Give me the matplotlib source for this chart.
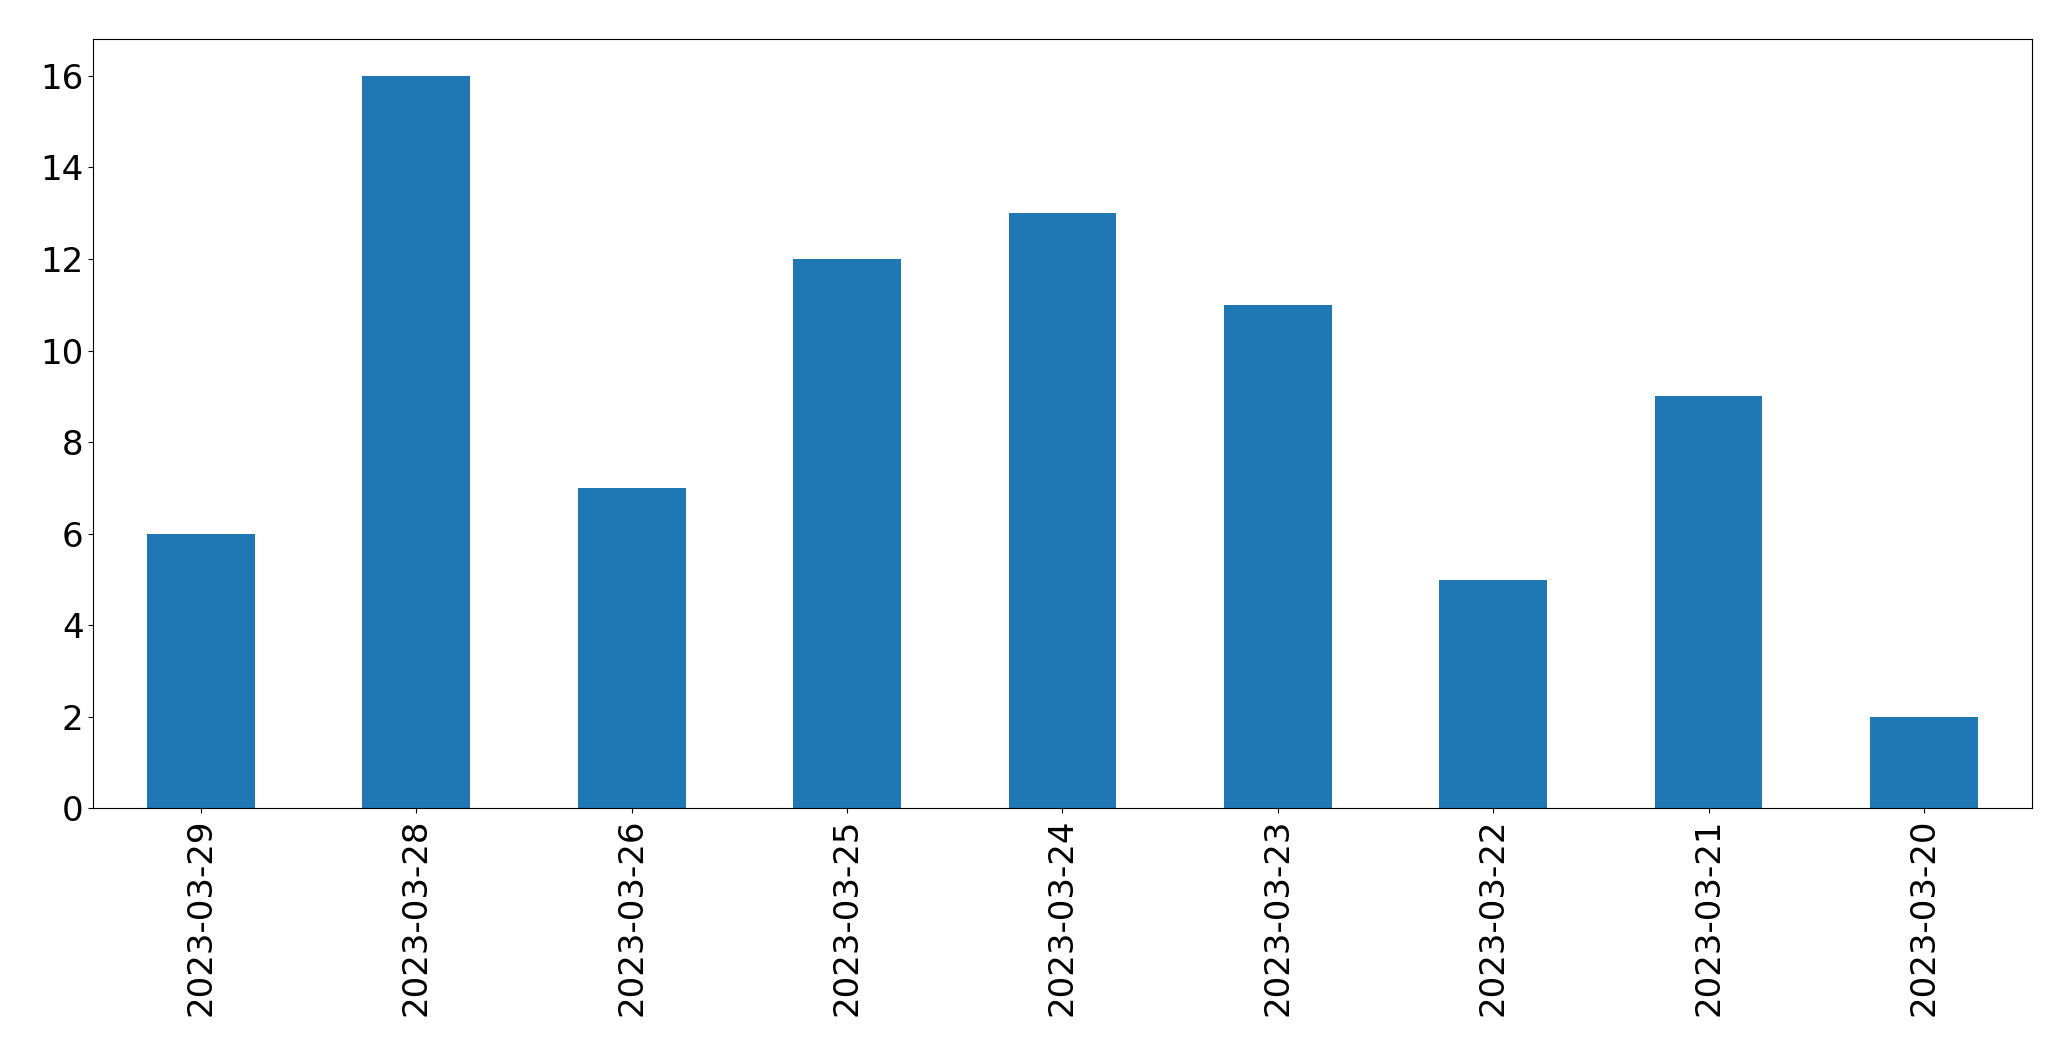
import matplotlib
matplotlib.use("Agg")
import matplotlib.pyplot as plt
import pandas as pd

dates = ["2023-03-29", "2023-03-28", "2023-03-26", "2023-03-25", "2023-03-24",
         "2023-03-23", "2023-03-22", "2023-03-21", "2023-03-20"]
counts = [6, 16, 7, 12, 13, 11, 5, 9, 2]

s = pd.Series(counts, index=dates)

fig, ax = plt.subplots(figsize=(20.71, 10.61), dpi=100)
s.plot(kind="bar", ax=ax, fontsize=24.5)
ax.set_xlabel("")
fig.subplots_adjust(left=0.045, right=0.981, top=0.963, bottom=0.238)
fig.savefig("out.png", dpi=100)
